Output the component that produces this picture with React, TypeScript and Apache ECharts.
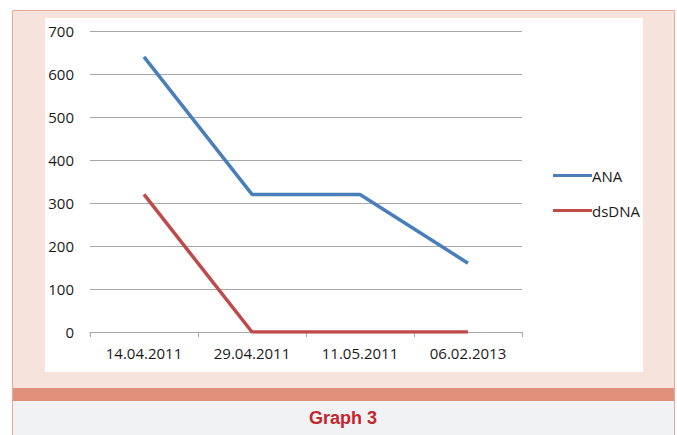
import React, { useEffect, useRef } from "react";
import * as echarts from "echarts";

const categories = ["14.04.2011", "29.04.2011", "11.05.2011", "06.02.2013"];
const anaValues = [640, 320, 320, 160];
const dsdnaValues = [320, 0, 0, 0];
const seriesNames = ["ANA", "dsDNA"];
const captionText = "Graph 3";

export default function App() {
  const ref = useRef<HTMLDivElement>(null);
  useEffect(() => {
    if (!ref.current) return;
    const chart = echarts.init(ref.current, null, { renderer: "svg" });
    const font = "'Open Sans', 'Noto Sans', sans-serif";
    chart.setOption({
      animation: false,
      backgroundColor: "#ffffff",
      graphic: [
        {
          type: "rect",
          z: -10,
          silent: true,
          shape: { x: 12.5, y: 10.5, width: 662, height: 440 },
          style: { fill: "#f6e4dc", stroke: "#eea896", lineWidth: 1 },
        },
        {
          type: "rect",
          z: -9,
          silent: true,
          shape: { x: 45, y: 18, width: 598, height: 354 },
          style: { fill: "#ffffff" },
        },
        {
          type: "rect",
          z: -9,
          silent: true,
          shape: { x: 13, y: 388, width: 661, height: 13 },
          style: { fill: "#e0907a" },
        },
        {
          type: "rect",
          z: -9,
          silent: true,
          shape: { x: 13, y: 401, width: 661, height: 34 },
          style: { fill: "#f1f2f4" },
        },
        {
          type: "text",
          z: 10,
          x: 343,
          y: 418,
          style: {
            text: captionText,
            fill: "#c4262e",
            font: "bold 18px 'Liberation Sans', Arial, sans-serif",
            textAlign: "center",
            textVerticalAlign: "middle",
          },
        },
      ],
      grid: { left: 90, right: 155, top: 31, bottom: 103, containLabel: false },
      legend: {
        orient: "vertical",
        left: 548,
        top: 160,
        itemWidth: 39,
        itemHeight: 3,
        itemGap: 14,
        icon: "rect",
        data: seriesNames,
        textStyle: { fontFamily: font, fontSize: 15, color: "#1a1a1a", padding: [0, 0, 0, -5], lineHeight: 21 },
      },
      xAxis: {
        type: "category",
        data: categories,
        boundaryGap: true,
        axisLine: { lineStyle: { color: "#a6a6a6", width: 1 } },
        axisTick: { show: true, length: 5, alignWithLabel: false, lineStyle: { color: "#a6a6a6" } },
        axisLabel: { interval: 0, margin: 13, fontFamily: font, fontSize: 15, color: "#1a1a1a" },
      },
      yAxis: {
        type: "value",
        min: 0,
        max: 700,
        interval: 100,
        axisLine: { show: false },
        axisTick: { show: false },
        splitLine: { lineStyle: { color: "#a6a6a6", width: 1 } },
        axisLabel: { margin: 16, fontFamily: font, fontSize: 15, color: "#1a1a1a" },
      },
      series: [
        {
          name: seriesNames[0],
          type: "line",
          data: anaValues,
          symbol: "none",
          lineStyle: { color: "#4a7ebb", width: 3.5 },
          itemStyle: { color: "#4a7ebb" },
        },
        {
          name: seriesNames[1],
          type: "line",
          data: dsdnaValues,
          symbol: "none",
          lineStyle: { color: "#be4b48", width: 3.5 },
          itemStyle: { color: "#be4b48" },
        },
      ],
    });
    return () => chart.dispose();
  }, []);
  return (
    <div
      ref={ref}
      style={{ position: "fixed", left: 0, top: 0, width: 677, height: 435 }}
    />
  );
}
